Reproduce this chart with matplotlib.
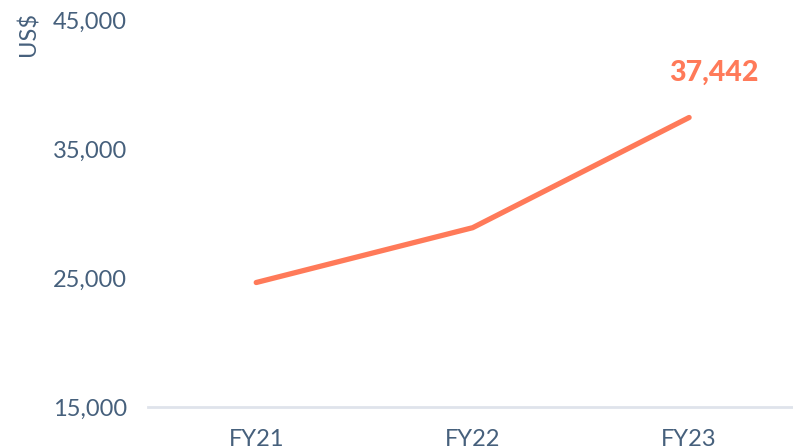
import matplotlib.pyplot as plt
from matplotlib.ticker import FuncFormatter

years = ['FY21', 'FY22', 'FY23']
revenue = [24650, 28900, 37442]
y_ticks = [15000, 25000, 35000, 45000]

plt.rcParams['font.family'] = ['Lato', 'DejaVu Sans']

fig = plt.figure(figsize=(7.93, 4.48), dpi=100)
ax = fig.add_axes([148 / 793, 1 - 407 / 448, 1 - 148 / 793, (407 - 20) / 448])

x = list(range(len(years)))
ax.plot(x, revenue, color='#ff7a59', linewidth=3.8, solid_capstyle='round',
        solid_joinstyle='round', clip_on=False)

# Подпись последнего значения
ax.annotate(f'{revenue[-1]:,}', xy=(x[-1], revenue[-1]), xytext=(18, 32),
            textcoords='offset points', ha='center', va='center',
            fontsize=20.5, fontweight='black', color='#ff7a59')

ax.set_xlim(-0.5, 2.48)
ax.set_ylim(15000, 45000)
ax.set_yticks(y_ticks)
ax.yaxis.set_major_formatter(FuncFormatter(lambda v, p: f'{int(v):,}'))
ax.set_xticks(x)
ax.set_xticklabels(years)

for side in ['top', 'right', 'left']:
    ax.spines[side].set_visible(False)
ax.spines['bottom'].set_color('#dfe3eb')
ax.spines['bottom'].set_linewidth(2)

ax.tick_params(axis='both', length=0, labelsize=17, labelcolor='#46607c')
ax.tick_params(axis='y', pad=15)
ax.tick_params(axis='x', pad=16)

fig.text(28 / 793, 1 - 12 / 448, 'US$', rotation=90, ha='center', va='top',
         fontsize=17, color='#46607c')

fig.savefig('out.png', dpi=100)
